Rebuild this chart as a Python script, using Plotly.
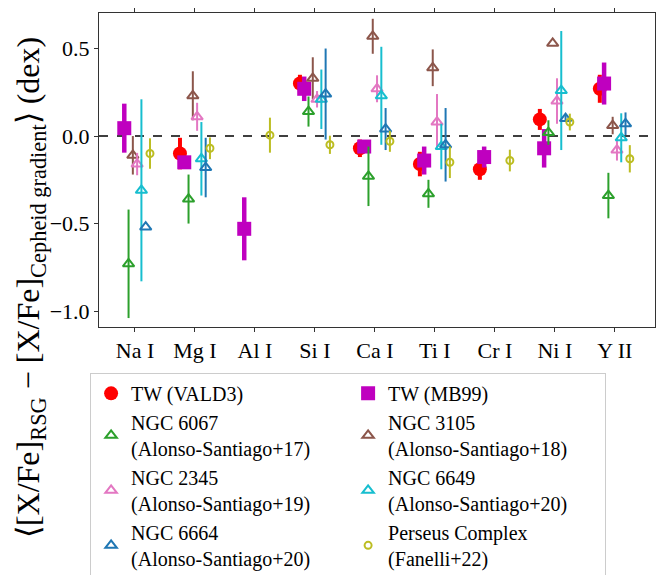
import plotly.graph_objects as go

categories = ["Na I", "Mg I", "Al I", "Si I", "Ca I", "Ti I", "Cr I", "Ni I", "Y II"]

# values (None = no measurement) and symmetric errors, per series
vald3_val = [None, -0.10, None, 0.30, -0.07, -0.16, -0.19, 0.095, 0.27]
vald3_err = [None, 0.09, None, 0.05, 0.05, 0.07, 0.06, 0.06, 0.08]

mb99_val = [0.045, -0.15, -0.53, 0.27, -0.06, -0.14, -0.12, -0.07, 0.30]
mb99_err = [0.14, 0.03, 0.18, 0.07, 0.03, 0.08, 0.06, 0.11, 0.12]

ngc6067_val = [-0.73, -0.36, None, 0.14, -0.23, -0.33, None, 0.02, -0.34]
ngc6067_err = [0.31, 0.14, None, 0.086, 0.17, 0.08, None, 0.07, 0.13]

ngc3105_val = [-0.11, 0.23, None, 0.33, 0.57, 0.39, None, 0.53, 0.06]
ngc3105_err = [0.11, 0.14, None, 0.12, 0.10, 0.105, None, 0.0, 0.05]

ngc2345_val = [-0.16, 0.11, None, 0.21, 0.27, 0.08, None, 0.20, -0.08]
ngc2345_err = [0.064, 0.08, None, 0.047, 0.077, 0.16, None, 0.13, 0.06]

ngc6649_val = [-0.31, -0.13, None, 0.21, 0.23, -0.06, None, 0.26, -0.01]
ngc6649_err = [0.52, 0.21, None, 0.17, 0.28, 0.13, None, 0.34, 0.14]

ngc6664_val = [-0.52, -0.18, None, 0.24, 0.04, -0.05, None, 0.10, 0.07]
ngc6664_err = [0.0, 0.17, None, 0.26, 0.12, 0.21, None, 0.02, 0.065]

perseus_val = [-0.10, -0.07, 0.005, -0.05, -0.03, -0.15, -0.14, 0.08, -0.13]
perseus_err = [0.087, 0.062, 0.10, 0.052, 0.06, 0.09, 0.062, 0.048, 0.078]

series = [
    ("TW (VALD3)", vald3_val, vald3_err, "#ff0000", "circle", 14, 4),
    ("TW (MB99)", mb99_val, mb99_err, "#bf00bf", "square", 14, 4.5),
    ("NGC 6067<br>(Alonso-Santiago+17)", ngc6067_val, ngc6067_err, "#2ca02c", "triangle-up-open", 10, 2),
    ("NGC 3105<br>(Alonso-Santiago+18)", ngc3105_val, ngc3105_err, "#8c564b", "triangle-up-open", 10, 2),
    ("NGC 2345<br>(Alonso-Santiago+19)", ngc2345_val, ngc2345_err, "#e377c2", "triangle-up-open", 10, 2),
    ("NGC 6649<br>(Alonso-Santiago+20)", ngc6649_val, ngc6649_err, "#17becf", "triangle-up-open", 10, 2),
    ("NGC 6664<br>(Alonso-Santiago+20)", ngc6664_val, ngc6664_err, "#1f77b4", "triangle-up-open", 10, 2),
    ("Perseus Complex<br>(Fanelli+22)", perseus_val, perseus_err, "#bcbd22", "circle-open", 7, 2),
]

FONT = "Liberation Serif"
fig = go.Figure()
n = len(series)
for i, (name, vals, errs, color, sym, size, ew) in enumerate(series):
    off = -0.25 + i * 0.5 / (n - 1)
    xs, ys, es = [], [], []
    for k, (v, e) in enumerate(zip(vals, errs)):
        if v is None:
            continue
        xs.append(k + off)
        ys.append(v)
        es.append(e)
    fig.add_trace(go.Scatter(
        x=xs, y=ys, mode="markers", name=name,
        marker=dict(symbol=sym, size=size, color=color,
                    line=dict(color=color, width=2 if "open" in sym else 0)),
        error_y=dict(type="data", array=es, visible=True, color=color,
                     thickness=ew, width=0),
    ))

fig.add_shape(type="line", xref="paper", yref="y", x0=0, x1=1, y0=0, y1=0,
              line=dict(color="black", width=1.5, dash="dash"), layer="below")

axis_common = dict(showline=True, linecolor="#333333", linewidth=1, mirror="ticks",
                   ticks="outside", ticklen=4, tickcolor="#333333",
                   showgrid=False, zeroline=False,
                   tickfont=dict(family=FONT, size=22, color="black"))

fig.update_layout(
    width=656, height=575,
    margin=dict(l=99, r=1, t=13, b=248, autoexpand=False),
    paper_bgcolor="white", plot_bgcolor="white",
    showlegend=True,
    xaxis=dict(range=[-0.6, 8.67], tickvals=list(range(len(categories))),
               ticktext=categories, **axis_common),
    yaxis=dict(range=[-1.091, 0.703], tickvals=[-1.0, -0.5, 0.0, 0.5],
               ticktext=["\u22121.0", "\u22120.5", "0.0", "0.5"], **axis_common),
    legend=dict(orientation="h", x=-0.016, y=-0.146, xanchor="left", yanchor="top",
                entrywidth=212, entrywidthmode="pixels",
                bgcolor="white", bordercolor="#cccccc", borderwidth=1,
                font=dict(family=FONT, size=20, color="black"),
                itemsizing="trace"),
    annotations=[dict(
        text="\u27e8[X/Fe]<sub>RSG</sub> \u2212 [X/Fe]<sub>Cepheid gradient</sub>\u27e9 (dex)",
        xref="paper", yref="paper", x=-0.124, y=0.124, xanchor="center", yanchor="middle",
        textangle=-90, showarrow=False,
        font=dict(family=FONT, size=32, color="black"))],
)

fig.write_html("out.html")
